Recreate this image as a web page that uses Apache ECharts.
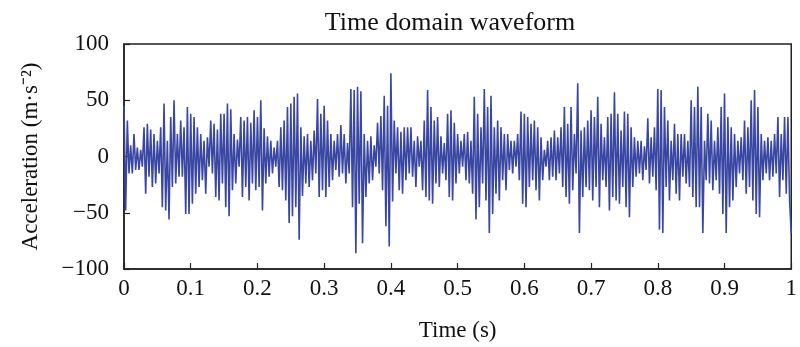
<!DOCTYPE html>
<html>
<head>
    <meta charset="utf-8">
    <title>Time domain waveform</title>
    <style type="text/css">
        * { margin: 0; padding: 0; }
        #main { width: 800px; height: 347px; }
    </style>
</head>
<body>
<div id="main"></div>
<script src="https://cdn.jsdelivr.net/npm/echarts@6/dist/echarts.min.js"></script>
<script type="text/javascript">
    // sampling: 400 samples per second in 0.1 s blocks
    var sampleRate = 400;
    var seg0 = [45, -48, 32, -15, 10, -15, 20, -12, 8, -12, 6, -9, 26, -33, 29, -18, 24, -27, 20, -24,
        14, -15, 26, -45, 47, -48, 14, -56, 35, -27, 50, -24, 20, -18, 32, -18, 26, -51, 44, -51];
    var seg1 = [38, -42, 35, -33, 26, -27, 20, -21, 14, -33, 17, -9, 32, -15, 29, -36, 24, -39, 38, -24,
        38, -45, 47, -53, 42, -30, 20, -24, 15, -9, 35, -36, 32, -27, 35, -39, 30, -24, 41, -30];
    var seg2 = [35, -27, 50, -48, 25, -24, 18, -18, 14, -15, 8, -9, 14, -27, 26, -30, 32, -39, 44, -59,
        47, -53, 53, -45, 56, -74, 26, -35, 18, -24, 20, -27, 14, -21, 23, -15, 51, -36, 38, -30];
    var seg3 = [45, -36, 32, -27, 20, -21, 14, -12, 20, -18, 28, -15, 20, -24, 12, -15, 60, -45, 59, -86,
        62, -42, 58, -77, 20, -36, 14, -24, 18, -21, 10, -9, 30, -15, 36, -30, 54, -62, 45, -80];
    var seg4 = [74, -40, 32, -15, 26, -30, 22, -33, 26, -21, 26, -15, 26, -18, 14, -27, 18, -9, 14, -30,
        32, -36, 59, -39, 44, -42, 32, -24, 35, -27, 18, -15, 12, -21, 38, -36, 41, -39, 30, -24];
    var seg5 = [20, -15, 14, -9, 20, -21, 22, -24, 14, -33, 53, -56, 38, -45, 26, -24, 60, -39, 44, -68,
        54, -51, 26, -33, 32, -39, 26, -21, 20, -30, 20, -12, 14, -15, 14, -9, 20, -21, 40, -42];
    var seg6 = [38, -45, 35, -27, 29, -21, 32, -30, 26, -39, 17, -21, 6, -9, 14, -21, 17, -18, 23, -21,
        17, -15, 26, -27, 44, -36, 29, -42, 44, -30, 20, -15, 65, -68, 23, -36, 26, -27, 32, -30];
    var seg7 = [41, -39, 35, -27, 53, -45, 29, -21, 17, -27, 35, -48, 38, -36, 57, -39, 38, -42, 23, -27,
        40, -45, 38, -54, 26, -27, 17, -18, 14, -15, 14, -21, 9, -12, 34, -24, 17, -18, 26, -30];
    var seg8 = [60, -65, 59, -68, 44, -27, 32, -39, 14, -21, 29, -33, 20, -39, 20, -18, 20, -24, 14, -27,
        50, -36, 44, -45, 62, -45, 44, -68, 14, -21, 38, -24, 32, -30, 14, -21, 26, -33, 44, -51];
    var seg9 = [56, -68, 35, -45, 26, -39, 20, -27, 14, -15, 17, -21, 32, -33, 26, -27, 50, -39, 59, -51,
        44, -54, 20, -21, 14, -15, 17, -21, 14, -18, 20, -15, 35, -36, 20, -21, 35, -33, 35, -39, -68];

    var xTicks = [0, 0.1, 0.2, 0.3, 0.4, 0.5, 0.6, 0.7, 0.8, 0.9, 1];
    var yTicks = [-100, -50, 0, 50, 100];

    var accel = [].concat(seg0, seg1, seg2, seg3, seg4, seg5, seg6, seg7, seg8, seg9);
    var seriesData = accel.map(function (v, i) {
        return [i / sampleRate, v];
    });

    var myChart = echarts.init(document.getElementById('main'));
    var serif = 'Liberation Serif';
    var axisColor = '#222';

    var option = {
        animation: false,
        title: {
            text: 'Time domain waveform',
            left: 445,
            top: 5,
            textAlign: 'center',
            textStyle: { fontFamily: serif, fontSize: 26, fontWeight: 'normal', color: '#111' }
        },
        grid: {
            left: 124, right: 7, top: 44, bottom: 78,
            show: true,
            borderColor: axisColor,
            borderWidth: 1.5
        },
        xAxis: {
            type: 'value',
            min: xTicks[0],
            max: xTicks[xTicks.length - 1],
            interval: 0.1,
            name: 'Time (s)',
            nameLocation: 'middle',
            nameGap: 50,
            nameTextStyle: { fontFamily: serif, fontSize: 23, color: '#111' },
            axisLine: { onZero: false, lineStyle: { color: axisColor, width: 1.5 } },
            axisTick: { inside: true, length: 6, lineStyle: { color: axisColor, width: 1.2 } },
            axisLabel: {
                fontFamily: serif, fontSize: 23, color: '#111', margin: 8,
                formatter: function (v) { return String(Math.round(v * 10) / 10); }
            },
            splitLine: { show: false }
        },
        yAxis: {
            type: 'value',
            min: yTicks[0],
            max: yTicks[yTicks.length - 1],
            interval: 50,
            name: 'Acceleration (m·s⁻²)',
            nameLocation: 'middle',
            nameGap: 82,
            nameTextStyle: { fontFamily: serif, fontSize: 23, color: '#111' },
            axisLine: { lineStyle: { color: axisColor, width: 1.5 } },
            axisTick: { inside: true, length: 6, lineStyle: { color: axisColor, width: 1.2 } },
            axisLabel: {
                fontFamily: serif, fontSize: 23, color: '#111', margin: 15,
                formatter: function (v) { return String(v).replace('-', '\u2212'); }
            },
            splitLine: { show: false }
        },
        series: [
            {
                name: 'Acceleration',
                type: 'line',
                data: seriesData,
                showSymbol: false,
                lineStyle: { color: '#3a47a2', width: 1.6 }
            }
        ]
    };

    myChart.setOption(option);
</script>
</body>
</html>
